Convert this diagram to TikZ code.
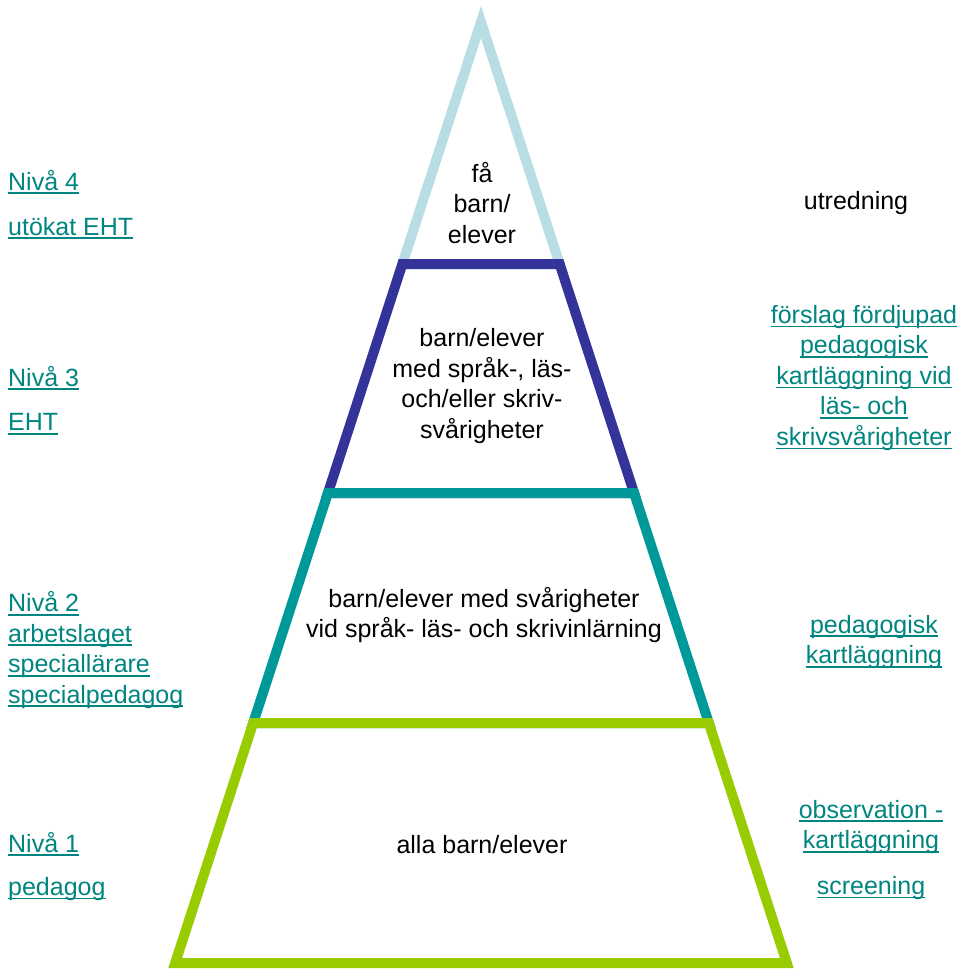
\documentclass[tikz,border=0pt]{standalone}
\usepackage{fontspec}
\setmainfont{Liberation Sans}
\usetikzlibrary{positioning}

\definecolor{bandpale}{RGB}{184,222,228}
\definecolor{bandnavy}{RGB}{51,51,153}
\definecolor{bandteal}{RGB}{0,153,153}
\definecolor{bandlime}{RGB}{153,204,0}
\definecolor{linkteal}{RGB}{0,133,128}
\newsavebox{\lnkbox}
\newcommand{\lnk}[1]{\sbox{\lnkbox}{#1}\rlap{\rule[-4pt]{\wd\lnkbox}{1.8pt}}\usebox{\lnkbox}}

\tikzset{
  band/.style={line width=10pt, line join=miter},
  lbl/.style={inner sep=0pt, font=\fontsize{25}{30.5}\selectfont},
  link/.style={lbl, text=linkteal},
}

\begin{document}
\begin{tikzpicture}[x=1pt,y=-1pt]
\useasboundingbox (0,0) rectangle (960,974);

% pyramid corners
\coordinate (apex) at (481,22);
\foreach \n/\y in {a/264, b/493, c/723, d/963} {
  \coordinate (L\n) at ({481-0.325*(\y-22)},\y);
  \coordinate (R\n) at ({481+0.325*(\y-22)},\y);
}

% bands, top to bottom
\draw[band, bandpale] (apex) -- (La) -- (Ra) -- cycle;
\draw[band, bandnavy] (La) -- (Ra) -- (Rb) -- (Lb) -- cycle;
\draw[band, bandteal] (Lb) -- (Rb) -- (Rc) -- (Lc) -- cycle;
\draw[band, bandlime] (Lc) -- (Rc) -- (Rd) -- (Ld) -- cycle;

% inside the pyramid
\node[lbl, align=center] (fa) at (482,203) {få\\barn/\\elever};
\node[lbl, align=center] (sprak) at (482,386) {barn/elever\\med språk-, läs-\\och/eller skriv-\\svårigheter};
\node[lbl, align=center] (svar) at (484,615) {barn/elever med svårigheter\\vid språk- läs- och skrivinlärning};
\node[lbl] (alla) at (482,845) {alla barn/elever};

% levels on the left
\node[link, anchor=west] (niva4) at (8,182) {\lnk{Nivå 4}};
\node[link, anchor=west] (utokat) at (8,228) {\lnk{utökat EHT}};
\node[link, anchor=west] (niva3) at (8,378) {\lnk{Nivå 3}};
\node[link, anchor=west] (eht) at (8,424) {\lnk{EHT}};
\node[link, anchor=west, align=left] (niva2) at (8,650)
  {\lnk{Nivå 2}\\\lnk{arbetslaget}\\\lnk{speciallärare}\\\lnk{specialpedagog}};
\node[link, anchor=west] (niva1) at (8,844) {\lnk{Nivå 1}};
\node[link, anchor=west] (pedagog) at (8,889) {\lnk{pedagog}};

% actions on the right
\node[lbl] (utredning) at (856,203) {utredning};
\node[link, align=center] (fordjupad) at (864,378)
  {\lnk{förslag fördjupad}\\\lnk{pedagogisk}\\\lnk{kartläggning vid}\\\lnk{läs- och}\\\lnk{skrivsvårigheter}};
\node[link, align=center] (pedkart) at (874,642) {\lnk{pedagogisk}\\\lnk{kartläggning}};
\node[link, align=center] (observ) at (871,827) {\lnk{observation -}\\\lnk{kartläggning}};
\node[link] (screening) at (871,888) {\lnk{screening}};

\end{tikzpicture}
\end{document}
